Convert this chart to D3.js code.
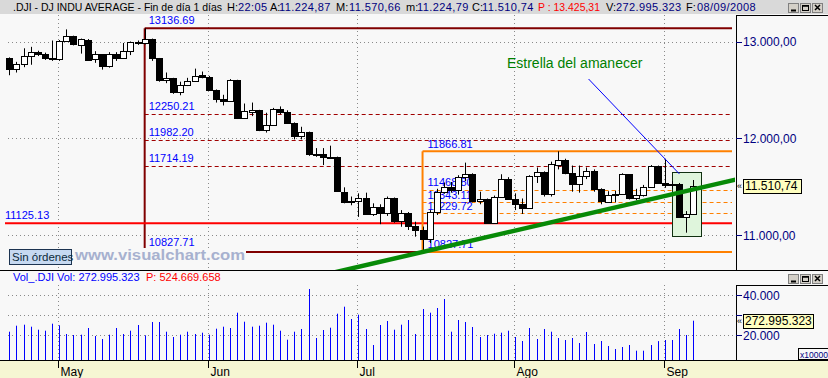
<!DOCTYPE html>
<html><head><meta charset="utf-8">
<script src="https://cdn.jsdelivr.net/npm/d3@7"></script>
<style>
html,body{margin:0;padding:0;background:#f8f8f8;}
svg{display:block;font-family:"Liberation Sans",Arial,sans-serif;}
</style></head><body>
<svg id="c" width="828" height="378"></svg>
<script>
// ---------------- DATA ----------------
const dates = [
 "2008-04-22","2008-04-23","2008-04-24","2008-04-25","2008-04-28","2008-04-29","2008-04-30",
 "2008-05-01","2008-05-02","2008-05-05","2008-05-06","2008-05-07","2008-05-08","2008-05-09","2008-05-12","2008-05-13","2008-05-14","2008-05-15","2008-05-16","2008-05-19","2008-05-20","2008-05-21","2008-05-22","2008-05-23","2008-05-27","2008-05-28","2008-05-29","2008-05-30",
 "2008-06-02","2008-06-03","2008-06-04","2008-06-05","2008-06-06","2008-06-09","2008-06-10","2008-06-11","2008-06-12","2008-06-13","2008-06-16","2008-06-17","2008-06-18","2008-06-19","2008-06-20","2008-06-23","2008-06-24","2008-06-25","2008-06-26","2008-06-27","2008-06-30",
 "2008-07-01","2008-07-02","2008-07-03","2008-07-07","2008-07-08","2008-07-09","2008-07-10","2008-07-11","2008-07-14","2008-07-15","2008-07-16","2008-07-17","2008-07-18","2008-07-21","2008-07-22","2008-07-23","2008-07-24","2008-07-25","2008-07-28","2008-07-29","2008-07-30","2008-07-31",
 "2008-08-01","2008-08-04","2008-08-05","2008-08-06","2008-08-07","2008-08-08","2008-08-11","2008-08-12","2008-08-13","2008-08-14","2008-08-15","2008-08-18","2008-08-19","2008-08-20","2008-08-21","2008-08-22","2008-08-25","2008-08-26","2008-08-27","2008-08-28","2008-08-29",
 "2008-09-02","2008-09-03","2008-09-04","2008-09-05","2008-09-08"];

const open = [
 12825,12720,12763,12848,12892,12870,12831,
 12820,13010,13058,12969,13020,12815,12866,12746,12876,12832,12898,12992,12987,13026,12825,12600,12620,12480,12548,12590,12652,
 12638,12504,12402,12391,12602,12210,12277,12289,12084,12142,12303,12269,12160,12029,12062,11842,11842,11807,11808,11452,11346,
 11350,11382,11216,11288,11231,11384,11147,11229,11100,11055,10961,11238,11446,11496,11467,11603,11632,11349,11370,11132,11397,11583,
 11378,11326,11284,11615,11656,11431,11729,11782,11642,11533,11616,11659,11479,11348,11417,11430,11628,11386,11413,11503,11715,
 11544,11516,11532,11188,11224.87];
const high = [
 12836,12790,12930,12945,12905,12885,13010,
 13015,13125,13060,13030,13025,12900,12870,12890,12890,12985,13000,13010,13136.69,13030,12830,12680,12625,12585,12625,12720,12690,
 12645,12505,12450,12612,12605,12360,12370,12295,12265,12315,12330,12290,12165,12120,12070,11900,11900,11925,11812,11495,11400,
 11433,11440,11330,11320,11400,11390,11260,11240,11140,11090,11260,11480,11545,11550,11620,11750,11640,11450,11380,11410,11630,11600,
 11433,11380,11620,11700,11660,11760,11866.81,11790,11720,11720,11700,11680,11485,11455,11460,11640,11630,11480,11520,11725,11720,
 11790,11560,11540,11250,11570.66];
const low = [
 12652,12680,12735,12760,12850,12810,12800,
 12800,13000,12960,12875,12805,12780,12710,12730,12800,12820,12860,12965,12970,12800,12585,12570,12460,12445,12540,12585,12620,
 12490,12370,12340,12380,12200,12200,12230,12075,12060,12130,12250,12150,11990,11990,11820,11810,11725,11800,11450,11330,11310,
 11190,11210,11200,11115,11200,11130,11088,11055,10986,10827.71,10920,11210,11430,11440,11420,11560,11340,11320,11120,11125,11390,11370,
 11260,11220,11280,11540,11400,11400,11680,11630,11450,11440,11580,11450,11320,11340,11340,11425,11370,11360,11400,11500,11530,
 11490,11480,11180,11027,11224.79];
const close = [
 12720,12763,12849,12892,12872,12831,12820,
 13010,13058,12970,13021,12814,12867,12746,12876,12832,12898,12993,12987,13028,12829,12601,12626,12480,12548,12591,12646,12638,
 12504,12403,12390,12604,12210,12280,12290,12084,12142,12307,12269,12160,12029,12063,11843,11842,11807,11812,11453,11347,11350,
 11382,11216,11289,11232,11384,11147,11229,11101,11055,10963,11239,11447,11497,11467,11602,11632,11349,11371,11131,11398,11584,11378,
 11326,11284,11616,11656,11431,11734,11782,11642,11533,11616,11660,11479,11349,11417,11430,11628,11386,11413,11503,11715,11544,
 11517,11533,11188,11221,11510.74];
// volume in units of x10000
const volume = [
 21800,24800,25300,24300,22800,22300,25800,
 25000,20650,20150,20300,23650,19650,18150,20300,23650,20650,22300,25150,20000,26650,26650,21800,19150,20300,21800,20650,21300,
 20300,23300,24300,23650,31300,26800,24300,24800,26300,25300,22300,17800,21800,23150,43150,18650,22650,23800,30800,34300,28150,
 30300,23150,15150,25150,27150,22800,25300,27650,20650,33150,31300,33650,38150,21800,27650,26650,24150,19150,20150,20800,21300,22300,
 19150,17150,23650,18150,23150,21800,18650,17650,18650,16150,21650,15650,17150,14650,13150,14150,15150,12300,12300,15150,17100,
 17650,17650,23150,20150,27300];

const monthLabels = ["May","Jun","Jul","Ago","Sep"];
const monthDates  = ["2008-05-01","2008-06-02","2008-07-01","2008-08-01","2008-09-02"];
const priceTicks = [13000, 12000, 11000];
const volTicks = [40000, 30000, 20000];
const volTickLabels = [40000, 20000];

const fibMainDate = "2008-05-19";
const fibMainLevels = [13136.69, 12250.21, 11982.20, 11714.19, 10827.71];
const fib2Date = "2008-07-15";
const fib2Levels = [11866.81, 11468.80, 11343.11, 11229.72, 10827.71];
const supportLevel = 11125.13;
const trendPoints = [{i:58, p:10827.71},{i:96, p:11474}];
const annotLine = [{i:81.3, p:12613},{i:94.05, p:11633}];
const patternBox = {i0:93.0, i1:97.1, p0:10990, p1:11650};
const annotText = {i:69.85, p:12726, t:"Estrella del amanecer"};
const lastPrice = close[close.length-1];
const lastVolLabel = "272.995.323";

const headerSegs = [
 {t:".DJI - DJ INDU AVERAGE - Fin de día 1 días", x:13, c:"#000", len:209},
 {t:"H:", x:227, c:"#000"}, {t:"22:05", x:238, c:"#000080"},
 {t:"A:", x:270, c:"#000"}, {t:"11.224,87", x:279, c:"#000080"},
 {t:"M:", x:336, c:"#000"}, {t:"11.570,66", x:349, c:"#000080"},
 {t:"m:", x:406, c:"#000"}, {t:"11.224,79", x:417, c:"#000080"},
 {t:"C:", x:472, c:"#000"}, {t:"11.510,74", x:482, c:"#000080"},
 {t:"P : 13.425,31", x:538, c:"#ff0000", len:62},
 {t:"V:", x:606, c:"#000"}, {t:"272.995.323", x:616, c:"#000080"},
 {t:"F:", x:686, c:"#000"}, {t:"08/09/2008", x:697, c:"#000080"}
];

// ---------------- LAYOUT ----------------
const W = 828, H = 378;
const plotR = 736, mainTop = 15, mainBot = 270, volTop = 270, volBot = 360;
const svg = d3.select("#c");

const x = d3.scalePoint().domain(dates).range([9.3, 693.3]);
const xi = d3.scaleLinear().domain([0, dates.length-1]).range([9.3, 693.3]);
const y = d3.scaleLinear().domain([11000, 13000]).range([235.3, 41.5]);
const yv = d3.scaleLinear().domain([20000, 40000]).range([335.3, 295.3]);
const loc = d3.formatLocale({decimal:",", thousands:".", grouping:[3], currency:["",""]});
const fPrice = loc.format(",.2f"), fVol = loc.format(",.0f");
const px = v => Math.round(v) + 0.5;

// background
svg.append("rect").attr("width", W).attr("height", H).attr("fill", "#f8f8f8");

// header bar
svg.append("rect").attr("x",0).attr("y",0).attr("width",W).attr("height",14).attr("fill","#d9d9d9");
const hdr = svg.append("g").attr("font-size", 11);
headerSegs.forEach(s => {
  const t = hdr.append("text").attr("x", s.x).attr("y", 11).attr("fill", s.c).text(s.t);
  if (s.len) t.attr("font-size", 10.5).attr("textLength", s.len).attr("lengthAdjust","spacingAndGlyphs");
  else if (/\d/.test(s.t)) t.attr("letter-spacing", 0.4);
});
function winButtons(x0, y0) {
  const g = svg.append("g");
  [0, 12, 24].forEach((dx, k) => {
    g.append("rect").attr("x", x0+dx+0.5).attr("y", y0+0.5).attr("width", 10).attr("height", 9)
     .attr("fill", "#d4d0c8").attr("stroke", "#808080");
  });
  g.append("line").attr("x1", x0+3).attr("x2", x0+8).attr("y1", y0+7.5).attr("y2", y0+7.5).attr("stroke","#000").attr("stroke-width",2);
  g.append("rect").attr("x", x0+14.5).attr("y", y0+2.5).attr("width", 6).attr("height", 5).attr("fill","none").attr("stroke","#000");
  g.append("line").attr("x1", x0+14.5).attr("x2", x0+20.5).attr("y1", y0+3).attr("y2", y0+3).attr("stroke","#000").attr("stroke-width",1.5);
  g.append("path").attr("d", `M${x0+27},${y0+2}L${x0+32},${y0+7}M${x0+32},${y0+2}L${x0+27},${y0+7}`).attr("stroke","#000").attr("stroke-width",1.5);
}
winButtons(788, 3);

// panel borders
svg.append("line").attr("x1", plotR+0.5).attr("x2", plotR+0.5).attr("y1", mainTop).attr("y2", mainBot).attr("stroke","#000");
svg.append("line").attr("x1", plotR).attr("x2", W).attr("y1", mainTop+0.5).attr("y2", mainTop+0.5).attr("stroke","#000");

// gridlines main
const grid = svg.append("g").attr("stroke","#8a8a8a").attr("stroke-dasharray","1,3");
priceTicks.forEach(p => grid.append("line").attr("x1", 8).attr("x2", plotR).attr("y1", px(y(p))).attr("y2", px(y(p))));
monthDates.forEach(d => grid.append("line").attr("x1", px(x(d)-1)).attr("x2", px(x(d)-1)).attr("y1", mainTop).attr("y2", mainBot));

// Fibonacci main (dark red)
const fx0 = x(fibMainDate), fxEnd = 732;
const fib = svg.append("g");
fibMainLevels.forEach((lv, k) => {
  const yy = y(lv);
  const last = k === fibMainLevels.length-1;
  if (k === 0) fib.append("line").attr("x1", fx0).attr("x2", fxEnd).attr("y1", yy).attr("y2", yy).attr("stroke","#800000").attr("stroke-width",2);
  else if (last) fib.append("line").attr("x1", fx0).attr("x2", x(fib2Date)).attr("y1", yy).attr("y2", yy).attr("stroke","#800000").attr("stroke-width",2);
  else fib.append("line").attr("x1", fx0).attr("x2", fxEnd).attr("y1", px(yy)).attr("y2", px(yy)).attr("stroke","#a00000").attr("stroke-dasharray","4,3");
  fib.append("text").attr("x", fx0+4).attr("y", yy-(last ? 6 : 4)).attr("font-size", 11).attr("fill","#0000ff").text(lv.toFixed(2));
});
fib.append("line").attr("x1", fx0).attr("x2", fx0).attr("y1", y(fibMainLevels[0])).attr("y2", 248).attr("stroke","#800000").attr("stroke-width",2);

// support line (red)
svg.append("line").attr("x1", 5).attr("x2", fxEnd).attr("y1", y(supportLevel)).attr("y2", y(supportLevel)).attr("stroke","#ff0000").attr("stroke-width",2);
svg.append("text").attr("x", 5).attr("y", y(supportLevel)-4).attr("font-size", 11).attr("fill","#0000ff").text(supportLevel.toFixed(2));

// Fibonacci 2 (orange)
const gx0 = x(fib2Date);
const fib2 = svg.append("g");
fib2Levels.forEach((lv, k) => {
  const yy = y(lv);
  const edge = (k === 0 || k === fib2Levels.length-1);
  fib2.append("line").attr("x1", gx0).attr("x2", fxEnd).attr("y1", edge ? yy : px(yy)).attr("y2", edge ? yy : px(yy))
    .attr("stroke","#ff8000").attr("stroke-width", edge ? 2 : 1).attr("stroke-dasharray", edge ? null : "4,3");
  fib2.append("text").attr("x", gx0+5).attr("y", yy-3.5).attr("font-size", 11).attr("fill","#0000ff").text(lv.toFixed(2));
});
fib2.append("line").attr("x1", gx0).attr("x2", gx0).attr("y1", y(fib2Levels[0])).attr("y2", y(fib2Levels[fib2Levels.length-1])).attr("stroke","#ff8000").attr("stroke-width",2);

// pattern box
svg.append("rect").attr("x", px(xi(patternBox.i0))).attr("y", px(y(patternBox.p1)))
  .attr("width", Math.round(xi(patternBox.i1)-xi(patternBox.i0))).attr("height", Math.round(y(patternBox.p0)-y(patternBox.p1)))
  .attr("fill","#dff5dc").attr("stroke","#103010");

// candles
const cg = svg.append("g");
dates.forEach((d, i) => {
  const cx = Math.round(x(d));
  const o = open[i], c = close[i];
  cg.append("line").attr("x1", cx+0.5).attr("x2", cx+0.5).attr("y1", y(high[i])).attr("y2", y(low[i])).attr("stroke","#000");
  const top = Math.round(y(Math.max(o,c))), bot = Math.round(y(Math.min(o,c)));
  cg.append("rect").attr("x", cx-2.5).attr("y", top+0.5).attr("width", 6).attr("height", Math.max(1, bot-top))
    .attr("fill", c >= o ? "#ffffff" : "#000000").attr("stroke","#000");
});

// trend line
svg.append("clipPath").attr("id","mainclip").append("rect").attr("x",0).attr("y",mainTop).attr("width",plotR-1).attr("height",mainBot-mainTop);
const slope = (trendPoints[1].p - trendPoints[0].p)/(trendPoints[1].i - trendPoints[0].i);
const tp = i => trendPoints[0].p + slope*(i - trendPoints[0].i);
svg.append("line").attr("clip-path","url(#mainclip)")
  .attr("x1", xi(40)).attr("y1", y(tp(40))).attr("x2", xi(102)).attr("y2", y(tp(102)))
  .attr("stroke","#078a07").attr("stroke-width",4.5);

// annotation
svg.append("line").attr("x1", xi(annotLine[0].i)).attr("y1", y(annotLine[0].p)).attr("x2", xi(annotLine[1].i)).attr("y2", y(annotLine[1].p))
  .attr("stroke","#0000ff").attr("stroke-width",1);
svg.append("text").attr("x", xi(annotText.i)).attr("y", y(annotText.p)).attr("font-size",14).attr("fill","#008000").text(annotText.t);

// watermark & button
svg.append("rect").attr("x", 73).attr("y", 248).attr("width", 173).attr("height", 14).attr("fill","#f8f8f8");
svg.append("text").attr("x", 75).attr("y", 260).attr("font-size", 14).attr("font-weight","bold").attr("fill","#a7b1cf")
  .attr("textLength", 170).attr("lengthAdjust","spacingAndGlyphs").text("www.visualchart.com");
svg.append("rect").attr("x", 9.5).attr("y", 249.5).attr("width", 62).attr("height", 15).attr("fill","#c6d9f1").attr("stroke","#1c3350");
svg.append("text").attr("x", 12).attr("y", 261).attr("font-size", 11.5).attr("fill","#0b2a3a").text("Sin órdenes");

// price axis
const ax = svg.append("g");
priceTicks.forEach(p => {
  ax.append("line").attr("x1", plotR).attr("x2", plotR+6).attr("y1", px(y(p))).attr("y2", px(y(p))).attr("stroke","#000080");
  ax.append("text").attr("x", plotR+7).attr("y", y(p)+4.5).attr("font-size", 12).attr("fill","#000080").text(fPrice(p));
});
// last price tag
const ly = y(lastPrice);
ax.append("text").attr("x", 737).attr("y", ly+3.5).attr("font-size", 9).attr("fill","#000").text("«");
ax.append("rect").attr("x", 743.5).attr("y", Math.round(ly-7)+0.5).attr("width", 58).attr("height", 14).attr("fill","#ffffc0").attr("stroke","#000");
ax.append("text").attr("x", 745).attr("y", ly+4.5).attr("font-size", 12).attr("fill","#000").text(fPrice(lastPrice));

// main bottom border
svg.append("line").attr("x1",0).attr("x2",W).attr("y1",mainBot+0.5).attr("y2",mainBot+0.5).attr("stroke","#000");

// ---------------- VOLUME PANEL ----------------
const vg = svg.append("g").attr("stroke","#8a8a8a").attr("stroke-dasharray","1,3");
volTicks.forEach(v => vg.append("line").attr("x1", 8).attr("x2", plotR).attr("y1", px(yv(v))).attr("y2", px(yv(v))));
monthDates.forEach(d => vg.append("line").attr("x1", px(x(d)-1)).attr("x2", px(x(d)-1)).attr("y1", 285).attr("y2", volBot));

svg.append("text").attr("x", 13).attr("y", 281).attr("font-size", 11).attr("fill","#0000ff").text("Vol_.DJI  Vol: " + lastVolLabel);
svg.append("text").attr("x", 146).attr("y", 281).attr("font-size", 11).attr("fill","#ff0000").text("P: 524.669.658");
winButtons(788, 274);

svg.append("g").selectAll("line").data(dates).join("line")
  .attr("x1", d => px(x(d))).attr("x2", d => px(x(d)))
  .attr("y1", volBot).attr("y2", (d,i) => yv(volume[i]))
  .attr("stroke","#0000ff").attr("stroke-width",1);

svg.append("line").attr("x1", plotR+0.5).attr("x2", plotR+0.5).attr("y1", 285).attr("y2", volBot).attr("stroke","#000");
svg.append("line").attr("x1", plotR).attr("x2", W).attr("y1", 285.5).attr("y2", 285.5).attr("stroke","#000");
const vax = svg.append("g");
volTicks.forEach(v => {
  vax.append("line").attr("x1", plotR).attr("x2", plotR+6).attr("y1", px(yv(v))).attr("y2", px(yv(v))).attr("stroke","#000080");
});
volTickLabels.forEach(v => {
  vax.append("text").attr("x", plotR+7).attr("y", yv(v)+4.5).attr("font-size", 12).attr("fill","#000080").text(fVol(v));
});
const vly = yv(volume[volume.length-1]);
vax.append("text").attr("x", 737).attr("y", vly+3.5).attr("font-size", 9).attr("fill","#000").text("«");
vax.append("rect").attr("x", 743.5).attr("y", Math.round(vly-7)+0.5).attr("width", 70).attr("height", 14).attr("fill","#ffffc0").attr("stroke","#000");
vax.append("text").attr("x", 745).attr("y", vly+4.5).attr("font-size", 12).attr("fill","#000").text(lastVolLabel);
vax.append("rect").attr("x", 798.5).attr("y", 348.5).attr("width", 30).attr("height", 11).attr("fill","#f8f8f8").attr("stroke","#000");
vax.append("text").attr("x", 800).attr("y", 357.5).attr("font-size", 8.5).attr("fill","#000080").text("x10000");

// ---------------- DATE AXIS ----------------
svg.append("rect").attr("x",0).attr("y",volBot).attr("width",W).attr("height",H-volBot).attr("fill","#f6f6d3");
svg.append("line").attr("x1",0).attr("x2",W).attr("y1",volBot+0.5).attr("y2",volBot+0.5).attr("stroke","#000");
const dg = svg.append("g");
monthDates.forEach((d, k) => {
  const mx = px(x(d)-1);
  dg.append("line").attr("x1", mx).attr("x2", mx).attr("y1", volBot).attr("y2", volBot+8).attr("stroke","#000");
  dg.append("text").attr("x", mx+2).attr("y", 376).attr("font-size", 12).attr("fill","#000").text(monthLabels[k]);
});
</script>
</body></html>
